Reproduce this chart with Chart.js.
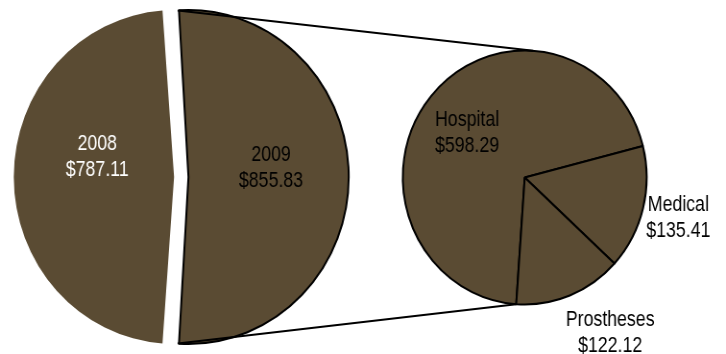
<!DOCTYPE html>
<html>
<head>
<meta charset="utf-8">
<script src="https://cdn.jsdelivr.net/npm/chart.js@4.4.1/dist/chart.umd.min.js"></script>
<style>
  html, body { margin: 0; padding: 0; background: #fff; }
  #wrap { position: relative; width: 726px; height: 354px; overflow: hidden; }
  /* both canvases are drawn 756px wide and squeezed into 726px */
  #wrap canvas { position: absolute; left: 0; top: 0; width: 726px !important; height: 354px !important; }
</style>
</head>
<body>
<div id="wrap">
  <canvas id="yearPie" width="756" height="354"></canvas>
  <canvas id="splitPie" width="756" height="354"></canvas>
</div>
<script>
// Totals per year
const years = ["2008", "2009"]
const yearTotals = [787.11, 855.83]

// 2009 broken down by category
const categories = ["Hospital", "Medical", "Prostheses"]
const categoryTotals = [598.29, 135.41, 122.12]

const fillColor = "#5a4b33"
const lineColor = "#000000"
const labelFont = "22px 'Liberation Sans', Arial, sans-serif"

// start the year pie so that 2008 faces left and 2009 faces right
const yearSum = yearTotals.reduce((a, b) => a + b, 0)
const firstShare = (yearTotals[0] / yearSum) * 360

// Where an arc really lands once its offset has been applied
function drawnArc(arc) {
  const o = (arc.options.offset || 0) / 4
  const mid = (arc.startAngle + arc.endAngle) / 2
  const fix = 1 - Math.sin(Math.min(Math.PI, arc.circumference))
  return {
    x: arc.x + Math.cos(mid) * o,
    y: arc.y + Math.sin(mid) * o,
    r: arc.outerRadius + o * fix,
    start: arc.startAngle,
    end: arc.endAngle,
  }
}

function pointOn(c, angle) {
  return { x: c.x + c.r * Math.cos(angle), y: c.y + c.r * Math.sin(angle) }
}

// Name + dollar value written on / next to each slice
const sliceLabels = {
  id: "sliceLabels",
  afterDatasetsDraw(chart, args, opts) {
    const { ctx } = chart
    const meta = chart.getDatasetMeta(0)
    const values = chart.data.datasets[0].data
    ctx.save()
    ctx.font = labelFont
    ctx.textAlign = "center"
    ctx.textBaseline = "middle"
    meta.data.forEach((arc, i) => {
      const c = drawnArc(arc)
      const [dx, dy] = opts.offsets[i]
      const lines = [chart.data.labels[i], "$" + values[i].toFixed(2)]
      ctx.fillStyle = opts.colors[i]
      ctx.save()
      ctx.translate(c.x + dx, c.y + dy)
      ctx.scale(opts.squeeze, 1)
      lines.forEach((t, k) => ctx.fillText(t, 0, (k - (lines.length - 1) / 2) * 26))
      ctx.restore()
    })
    ctx.restore()
  },
}

// Lines joining the 2009 slice to the breakdown pie
const connectors = {
  id: "connectors",
  afterDatasetsDraw(chart) {
    const src = drawnArc(yearChart.getDatasetMeta(0).data[1])
    const dst = drawnArc(chart.getDatasetMeta(0).data[0])
    const { ctx } = chart
    const a = pointOn(src, src.start)
    const b = pointOn(dst, dst.start + Math.PI)
    const c = pointOn(src, src.end)
    const d = pointOn(dst, dst.start)
    ctx.save()
    ctx.strokeStyle = lineColor
    ctx.lineWidth = 2
    ctx.beginPath()
    ctx.moveTo(a.x, a.y)
    ctx.lineTo(b.x, b.y)
    ctx.moveTo(c.x, c.y)
    ctx.lineTo(d.x, d.y)
    ctx.stroke()
    ctx.restore()
  },
}

const yearChart = new Chart(document.getElementById("yearPie"), {
  type: "pie",
  data: {
    labels: years,
    datasets: [
      {
        data: yearTotals,
        backgroundColor: fillColor,
        borderColor: lineColor,
        borderWidth: [0, 2],
        offset: [32, 27.8],
        radius: 160,
      },
    ],
  },
  options: {
    responsive: false,
    animation: false,
    events: [],
    rotation: 270 - firstShare / 2,
    layout: { padding: { left: 0, right: 377.5, top: 0, bottom: 0 } },
    plugins: {
      legend: { display: false },
      tooltip: { enabled: false },
      sliceLabels: {
        offsets: [[-80, -20], [86, -9]],
        colors: ["#ffffff", "#000000"],
        squeeze: 0.84,
      },
    },
  },
  plugins: [sliceLabels],
})

const splitChart = new Chart(document.getElementById("splitPie"), {
  type: "pie",
  data: {
    labels: categories,
    datasets: [
      {
        data: categoryTotals,
        backgroundColor: fillColor,
        borderColor: lineColor,
        borderWidth: 2,
        radius: 127,
      },
    ],
  },
  options: {
    responsive: false,
    animation: false,
    events: [],
    rotation: 184,
    layout: { padding: { left: 336.8, right: 0, top: 1, bottom: 0 } },
    plugins: {
      legend: { display: false },
      tooltip: { enabled: false },
      sliceLabels: {
        offsets: [[-60, -44.5], [160, 40.5], [89, 155.5]],
        colors: ["#000000", "#000000", "#000000"],
        squeeze: 0.84,
      },
    },
  },
  plugins: [connectors, sliceLabels],
})
</script>
</body>
</html>
